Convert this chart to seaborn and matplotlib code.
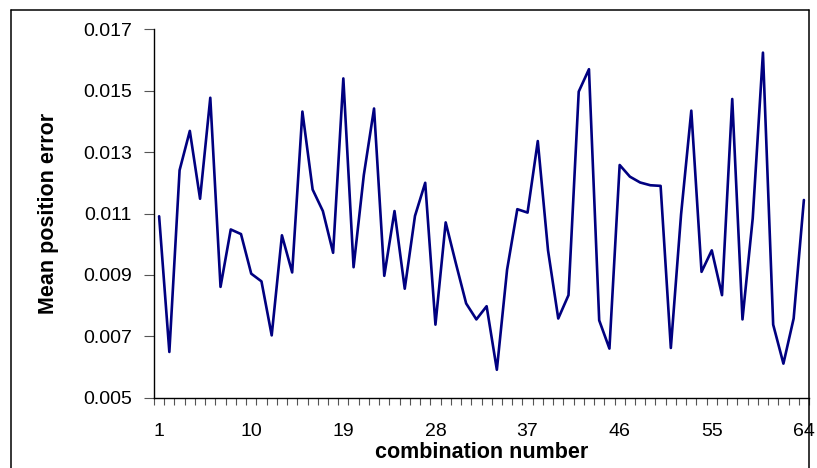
import numpy as np
import pandas as pd
import matplotlib
matplotlib.use("Agg")
import matplotlib.pyplot as plt
from matplotlib.lines import Line2D
from matplotlib.ticker import FixedLocator, FormatStrFormatter
import seaborn as sns

# Mean position error for each of the 64 parameter combinations
combination = list(range(1, 65))
mean_error = [
    0.01091, 0.00649, 0.01241, 0.01369, 0.01148, 0.01477, 0.00861, 0.01048,
    0.01033, 0.00904, 0.00879, 0.00703, 0.01029, 0.00908, 0.01432, 0.01178,
    0.01108, 0.00972, 0.01540, 0.00925, 0.01225, 0.01442, 0.00897, 0.01108,
    0.00855, 0.01092, 0.01200, 0.00738, 0.01071, 0.00937, 0.00807, 0.00755,
    0.00798, 0.00591, 0.00917, 0.01114, 0.01103, 0.01336, 0.00980, 0.00758,
    0.00834, 0.01497, 0.01570, 0.00752, 0.00660, 0.01258, 0.01220, 0.01201,
    0.01192, 0.01190, 0.00662, 0.01097, 0.01435, 0.00910, 0.00980, 0.00834,
    0.01473, 0.00755, 0.01084, 0.01624, 0.00738, 0.00611, 0.00758, 0.01144,
]
x_tick_labels = [1, 10, 19, 28, 37, 46, 55, 64]
y_ticks = [0.005, 0.007, 0.009, 0.011, 0.013, 0.015, 0.017]

df = pd.DataFrame({"combination number": combination,
                   "Mean position error": mean_error})

sns.set_style("white")
plt.rcParams["font.family"] = ["Liberation Sans", "DejaVu Sans"]
plt.rcParams["text.color"] = "black"
plt.rcParams["axes.labelcolor"] = "black"
plt.rcParams["xtick.color"] = "black"
plt.rcParams["ytick.color"] = "black"

W, H = 817, 468
ax_left, ax_right, ax_top, ax_bottom = 154, 809, 29.3, 397.7
fig = plt.figure(figsize=(W / 100, H / 100), dpi=100)
ax = fig.add_axes([ax_left / W, 1 - ax_bottom / H,
                   (ax_right - ax_left) / W, (ax_bottom - ax_top) / H])

sns.lineplot(data=df, x="combination number", y="Mean position error",
             color="#000080", linewidth=1.9, ax=ax)

ax.set_xlim(0.5, 64.5)
ax.set_ylim(0.005, 0.017)

# category labels at the centres, tick marks at category boundaries
ax.xaxis.set_major_locator(FixedLocator(x_tick_labels))
ax.xaxis.set_minor_locator(FixedLocator(np.arange(0.5, 65, 1.0)))
ax.tick_params(axis="x", which="major", length=0, pad=18.5, labelsize=14)
ax.tick_params(axis="x", which="minor", length=5, width=0.8, color="#555555",
               direction="out", bottom=True)

ax.yaxis.set_major_locator(FixedLocator(y_ticks))
ax.yaxis.set_major_formatter(FormatStrFormatter("%.3f"))
ax.tick_params(axis="y", which="major", length=7, width=0.8, color="#555555",
               direction="out", left=True, pad=9, labelsize=14)

for side in ("top", "right"):
    ax.spines[side].set_visible(False)
for side in ("left", "bottom"):
    ax.spines[side].set_color("black")
    ax.spines[side].set_linewidth(1.0)

plot_w = ax_right - ax_left
plot_h = ax_bottom - ax_top
ax.set_xlabel("combination number", fontsize=15.5, fontweight="bold")
ax.xaxis.set_label_coords(0.5, -(441.5 - ax_bottom) / plot_h)
ax.set_ylabel("Mean position error", fontsize=15.5, fontweight="bold")
ax.yaxis.set_label_coords(-(ax_left - 59) / plot_w, 0.5)

# outer chart frame
fx0, fx1, fy1 = 11 / W, 809 / W, 1 - 10 / H
for xs, ys in (([fx0, fx0], [0, fy1]), ([fx0, fx1], [fy1, fy1]), ([fx1, fx1], [0, fy1])):
    fig.add_artist(Line2D(xs, ys, color="black", linewidth=1.1,
                          transform=fig.transFigure))

fig.savefig("out.png", dpi=100)
